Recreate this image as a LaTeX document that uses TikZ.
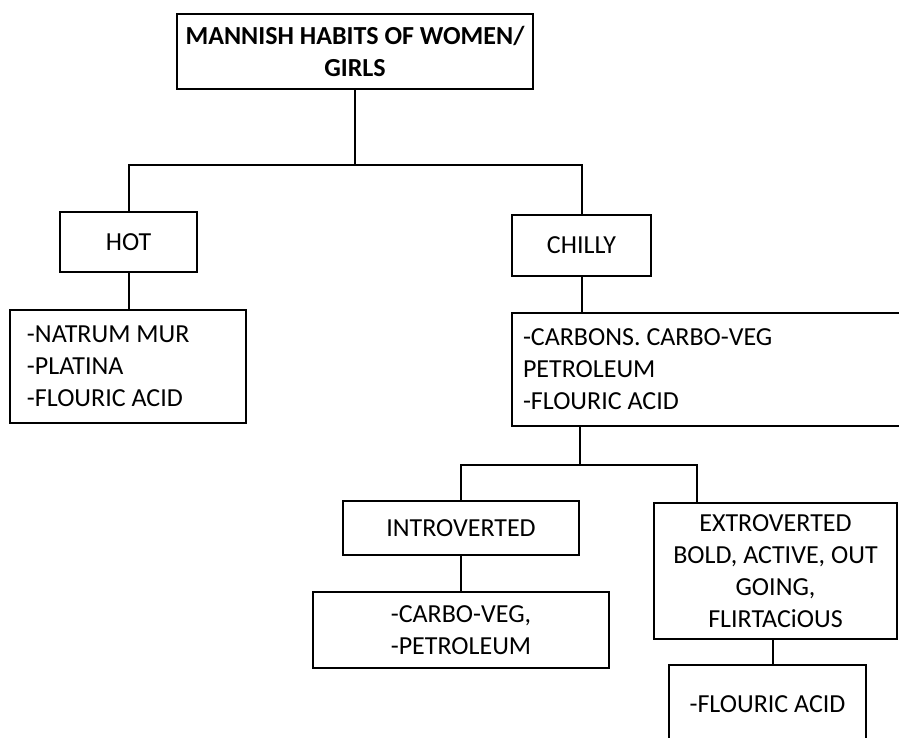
\documentclass[tikz,border=0pt]{standalone}
\usepackage{fontspec}
\setmainfont{Carlito}
\usetikzlibrary{positioning}

\begin{document}
\begin{tikzpicture}[x=1pt, y=-1pt, font=\fontsize{26}{32}\selectfont,
  hcell/.style={draw, line width=2pt, align=center, inner sep=2pt, outer sep=0pt},
  hlist/.style={hcell, align=flush left, anchor=north west},
  c/.style={line width=2pt}]
  \useasboundingbox (0,0) rectangle (899,737);
  \node[hcell, minimum width=356pt, minimum height=75pt] (root) at (355,51)
    {\bfseries MANNISH HABITS OF WOMEN/\\\bfseries GIRLS};
  \node[hcell, minimum width=137pt, minimum height=60pt] (hot) at (128.5,242) {HOT};
  \node[hcell, minimum width=139pt, minimum height=61pt] (chilly) at (581.5,245.5) {CHILLY};
  \node[hlist, text width=202pt, inner xsep=17pt, minimum height=113pt] (hotlist) at (10,310)
    {-NATRUM MUR\\-PLATINA\\-FLOURIC ACID};
  \node[hlist, text width=386pt, inner xsep=11pt, minimum height=113pt,
    below right=37pt and 0pt of chilly.south west] (chillylist)
    {-CARBONS. CARBO-VEG\\PETROLEUM\\-FLOURIC ACID};
  \node[hcell, minimum width=236pt, minimum height=54pt] (intro) at (461,528) {INTROVERTED};
  \node[hcell, minimum width=296pt, minimum height=76pt, below=37pt of intro] (introlist)
    {-CARBO-VEG,\\-PETROLEUM};
  \node[hcell, minimum width=243pt, minimum height=136pt] (extro) at (775.5,571)
    {EXTROVERTED\\BOLD, ACTIVE, OUT\\GOING,\\FLIRTACiOUS};
  \node[hcell, minimum width=197pt, minimum height=78pt, anchor=north] (flouric) at (767.5,665)
    {-FLOURIC ACID};
  \coordinate (split1) at (355,165);
  \coordinate (split2) at (580,465);
  \draw[c] (root.south) -- (split1);
  \draw[c] (hot.north) |- (split1) -| (chilly.north);
  \draw[c] (hot.south) -- (hot.south |- hotlist.north);
  \draw[c] (chilly.south) -- (chilly.south |- chillylist.north);
  \draw[c] (chillylist.south -| split2) -- (split2);
  \draw[c] (intro.north) |- (split2) -| ([xshift=43pt]extro.north west);
  \draw[c] (intro.south) -- (introlist.north);
  \draw[c] (extro.south -| 773,0) -- (flouric.north -| 773,0);
\end{tikzpicture}
\end{document}
